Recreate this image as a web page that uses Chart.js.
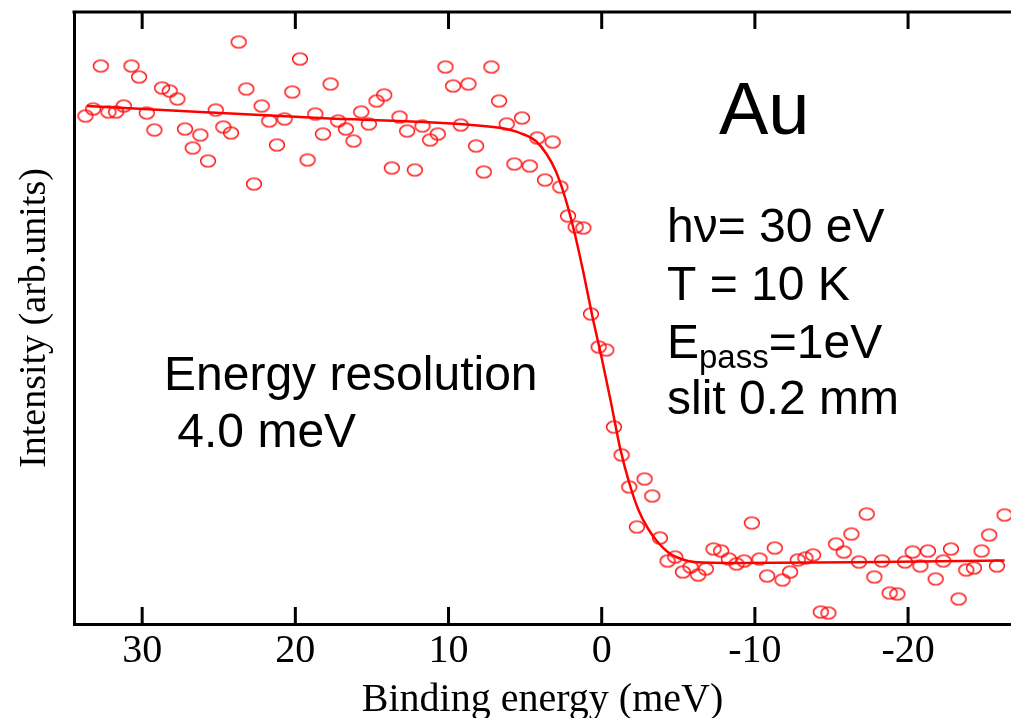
<!DOCTYPE html>
<html>
<head>
<meta charset="utf-8">
<script src="https://cdn.jsdelivr.net/npm/chart.js@4.4.1/dist/chart.umd.min.js"></script>
<style>
  body { margin: 0; background: #fff; }
  canvas { display: block; }
</style>
</head>
<body>
<canvas id="graficoFermi" width="1011" height="718"></canvas>
<script>
// energia de ligação (meV) de cada ponto medido
const energia = [
  33.7, 33.2, 32.7, 32.2, 31.7, 31.2, 30.7, 30.2, 29.7, 29.2,
  28.7, 28.2, 27.7, 27.2, 26.7, 26.2, 25.7, 25.2, 24.7, 24.2,
  23.7, 23.2, 22.7, 22.2, 21.7, 21.2, 20.7, 20.2, 19.7, 19.2,
  18.7, 18.2, 17.7, 17.2, 16.7, 16.2, 15.7, 15.2, 14.7, 14.2,
  13.7, 13.2, 12.7, 12.2, 11.7, 11.2, 10.7, 10.2, 9.7, 9.2,
  8.7, 8.2, 7.7, 7.2, 6.7, 6.2, 5.7, 5.2, 4.7, 4.2,
  3.7, 3.2, 2.7, 2.2, 1.7, 1.2, 0.7, 0.2, -0.3, -0.8,
  -1.3, -1.8, -2.3, -2.8, -3.3, -3.8, -4.3, -4.8, -5.3, -5.8,
  -6.3, -6.8, -7.3, -7.8, -8.3, -8.8, -9.3, -9.8, -10.3, -10.8,
  -11.3, -11.8, -12.3, -12.8, -13.3, -13.8, -14.3, -14.8, -15.3, -15.8,
  -16.3, -16.8, -17.3, -17.8, -18.3, -18.8, -19.3, -19.8, -20.3, -20.8,
  -21.3, -21.8, -22.3, -22.8, -23.3, -23.8, -24.3, -24.8, -25.3, -25.8,
  -26.3
]

// intensidade medida (unid. arb.)
const intensidade = [
  508, 515, 558, 512, 512, 518, 558, 547, 511, 494,
  536, 533, 525, 495, 476, 489, 463, 514, 497, 491,
  582, 535, 440, 518, 503, 479, 505, 532, 565, 464,
  510, 490, 540, 503, 495, 483, 512, 500, 523, 529,
  456, 507, 493, 454, 498, 484, 490, 557, 538, 499,
  540, 478, 452, 557, 523, 500, 460, 506, 458, 486,
  444, 482, 437, 408, 397, 396, 310, 277, 274, 197,
  169, 137, 97, 145, 128, 86, 63, 67, 52, 57,
  49, 55, 75, 73, 65, 60, 63, 101, 65, 48,
  76, 44, 52, 64, 66, 69, 12, 11, 80, 72,
  90, 62, 110, 47, 63, 31, 30, 62, 72, 58,
  73, 45, 63, 75, 25, 54, 56, 73, 89, 58,
  109
]

// curva ajustada (Fermi-Dirac convoluída)
const energiaAjuste = [33.6, 26.2, 18.4, 9.3, 6.2, 5.0, 4.3, 3.6, 3.0, 2.4, 1.8, 1.2, 0.6, 0.0,
  -0.6, -1.2, -1.8, -2.4, -3.0, -3.6, -4.4, -5.2, -6.0, -9.0, -18.0, -26.3]
const intensidadeAjuste = [518, 512, 506, 500, 495, 489, 483, 470, 453, 427, 393, 352, 307, 266,
  222, 176, 141, 114, 96, 83, 71, 65, 62, 61, 62, 63.5]

const ticksX = [30, 20, 10, 0, -10, -20]

const vermelho = 'rgb(255, 0, 0)'
const fonteSerif = '"Liberation Serif", "Times New Roman", serif'
const fonteSans = '"Liberation Sans", Arial, sans-serif'

// marcador: elipse vazada
function criarMarcador(){
    var c = document.createElement('canvas')
    c.width = 18
    c.height = 15
    var g = c.getContext('2d')
    g.strokeStyle = vermelho
    g.lineWidth = 1.4
    g.beginPath()
    g.ellipse(9, 7.5, 7.4, 5.9, 0, 0, Math.PI * 2)
    g.stroke()
    return c
}

var pontos = energia.map(function (e, i){ return { x: e, y: intensidade[i] } })
var ajuste = energiaAjuste.map(function (e, i){ return { x: e, y: intensidadeAjuste[i] } })

// sem folga lateral reservada pelos eixos
function semFolga(eixo){
    eixo.paddingLeft = 0
    eixo.paddingRight = 0
    eixo.paddingTop = 0
    eixo.paddingBottom = 0
}

// moldura superior, marcas internas e textos
const molduraETextos = {
    id: 'molduraETextos',
    afterDraw(chart){
        const ctx = chart.ctx
        const area = chart.chartArea
        const eixoX = chart.scales.x
        ctx.save()
        ctx.strokeStyle = '#000'
        ctx.lineWidth = 3
        ctx.beginPath()
        ctx.moveTo(area.left - 1.5, area.top)
        ctx.lineTo(chart.width, area.top)
        ctx.stroke()
        ticksX.forEach(function (v){
            var px = eixoX.getPixelForValue(v)
            ctx.beginPath()
            ctx.moveTo(px, area.bottom)
            ctx.lineTo(px, area.bottom - 17)
            ctx.moveTo(px, area.top)
            ctx.lineTo(px, area.top + 17)
            ctx.stroke()
        })

        ctx.fillStyle = '#000'
        ctx.textAlign = 'left'
        ctx.textBaseline = 'alphabetic'
        ctx.font = '74px ' + fonteSans
        ctx.fillText('Au', 719, 134)

        ctx.font = '48px ' + fonteSans
        ctx.fillText('hν= 30 eV', 667, 242)
        ctx.fillText('T = 10 K', 667, 300)
        ctx.fillText('E', 667, 358)
        var x = 667 + ctx.measureText('E').width
        ctx.font = '33px ' + fonteSans
        ctx.fillText('pass', x, 368)
        x += ctx.measureText('pass').width
        ctx.font = '48px ' + fonteSans
        ctx.fillText('=1eV', x, 358)
        ctx.fillText('slit 0.2 mm', 667, 414)

        ctx.fillText('Energy resolution', 164, 390)
        ctx.fillText(' 4.0 meV', 164, 447)
        ctx.restore()
    }
}

const config = {
    type: 'scatter',
    data: {
        datasets: [{
            label: 'Au',
            data: pontos,
            pointStyle: criarMarcador(),
            pointRadius: 7,
            showLine: false
        }, {
            label: 'ajuste',
            data: ajuste,
            showLine: true,
            borderColor: vermelho,
            borderWidth: 2.5,
            pointRadius: 0,
            cubicInterpolationMode: 'monotone',
            fill: false
        }]
    },
    options: {
        responsive: false,
        animation: false,
        devicePixelRatio: 1,
        layout: { autoPadding: false, padding: { top: 12, right: 0, bottom: 0, left: 0 } },
        plugins: {
            legend: { display: false },
            tooltip: { enabled: false }
        },
        scales: {
            x: {
                type: 'linear',
                reverse: true,
                min: -26.72,
                max: 34.45,
                afterBuildTicks: function (eixo){
                    eixo.ticks = ticksX.map(function (v){ return { value: v } })
                },
                afterFit: function (eixo){
                    eixo.height = 94
                    semFolga(eixo)
                },
                grid: { display: false, drawTicks: false },
                border: { display: true, color: '#000', width: 3 },
                ticks: {
                    color: '#000',
                    padding: 7,
                    maxRotation: 0,
                    font: { family: fonteSerif, size: 40, lineHeight: 1 }
                },
                title: {
                    display: true,
                    text: 'Binding energy (meV)',
                    color: '#000',
                    padding: { top: 0, bottom: 0 },
                    font: { family: fonteSerif, size: 40, lineHeight: 0.9 }
                }
            },
            y: {
                min: 0,
                max: 612,
                afterFit: function (eixo){
                    eixo.width = 74
                    semFolga(eixo)
                },
                grid: { display: false, drawTicks: false },
                border: { display: true, color: '#000', width: 3 },
                ticks: { display: false },
                title: {
                    display: true,
                    text: 'Intensity (arb.units)',
                    color: '#000',
                    padding: { top: 12, bottom: 0 },
                    font: { family: fonteSerif, size: 38, lineHeight: 1.2 }
                }
            }
        }
    },
    plugins: [molduraETextos]
}

var grafico = new Chart(document.getElementById('graficoFermi'), config)
</script>
</body>
</html>
